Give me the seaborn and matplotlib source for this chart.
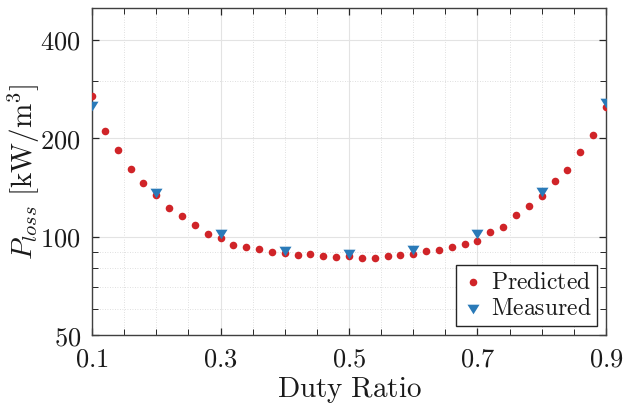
import numpy as np
import pandas as pd
import matplotlib
matplotlib.use("Agg")
import matplotlib.pyplot as plt
from matplotlib.ticker import FixedLocator, FixedFormatter, NullFormatter
import seaborn as sns

# ---- data ----
pred_x = [0.10, 0.12, 0.14, 0.16, 0.18, 0.20, 0.22, 0.24, 0.26, 0.28,
          0.30, 0.32, 0.34, 0.36, 0.38, 0.40, 0.42, 0.44, 0.46, 0.48,
          0.50, 0.52, 0.54, 0.56, 0.58, 0.60, 0.62, 0.64, 0.66, 0.68,
          0.70, 0.72, 0.74, 0.76, 0.78, 0.80, 0.82, 0.84, 0.86, 0.88, 0.90]
pred_y = [269.7, 209.7, 183.4, 161.2, 146.0, 134.2, 122.7, 115.7, 108.6, 102.1,
          99.1, 94.3, 93.2, 91.5, 89.8, 89.3, 87.9, 88.3, 87.1, 86.7,
          87.1, 86.2, 85.9, 87.3, 87.9, 88.5, 90.6, 90.8, 93.0, 94.8,
          97.2, 103.4, 107.1, 116.6, 123.9, 133.3, 148.1, 159.3, 181.7, 204.9, 248.4]
meas_x = [0.1, 0.2, 0.3, 0.4, 0.5, 0.6, 0.7, 0.8, 0.9]
meas_y = [250.1, 135.8, 101.9, 90.4, 88.5, 91.3, 101.6, 136.4, 256.2]

x_ticks = [0.1, 0.3, 0.5, 0.7, 0.9]
x_ticklabels = ["0.1", "0.3", "0.5", "0.7", "0.9"]
y_ticks = [50, 100, 200, 400]
y_ticklabels = ["50", "100", "200", "400"]

# ---- style ----
sns.set_theme(style="ticks")
plt.rcParams["font.family"] = ["DejaVu Serif"]
plt.rcParams["mathtext.fontset"] = "cm"

RED = "#d02428"
BLUE = "#2a7ab8"
TXT = "#1a1a1a"

fig = plt.figure(figsize=(6.25, 4.05), dpi=100)
ax = fig.add_axes([0.1472, 0.1728, 0.8224, 0.8074])

pred_df = pd.DataFrame({"x": pred_x, "y": pred_y})
meas_df = pd.DataFrame({"x": meas_x, "y": meas_y})

tri = [(0, -0.8), (-1, 0.8), (1, 0.8), (0, -0.8)]
sns.scatterplot(data=pred_df, x="x", y="y", ax=ax, color=RED, s=30,
                linewidth=0, marker="o", label=r"$\mathrm{Predicted}$", zorder=3)
sns.scatterplot(data=meas_df, x="x", y="y", ax=ax, color=BLUE, s=75,
                linewidth=0, marker=tri, label=r"$\mathrm{Measured}$", zorder=4)

ax.set_yscale("log")
ax.set_xlim(0.1, 0.9)
ax.set_ylim(50, 500)

ax.xaxis.set_major_locator(FixedLocator(x_ticks))
ax.xaxis.set_major_formatter(FixedFormatter([r"$%s$" % t for t in x_ticklabels]))
ax.xaxis.set_minor_locator(FixedLocator([0.15, 0.2, 0.25, 0.35, 0.4, 0.45, 0.55,
                                         0.6, 0.65, 0.75, 0.8, 0.85]))
ax.yaxis.set_major_locator(FixedLocator(y_ticks))
ax.yaxis.set_major_formatter(FixedFormatter([r"$%s$" % t for t in y_ticklabels]))
ax.yaxis.set_minor_locator(FixedLocator([60, 70, 80, 90, 300]))
ax.yaxis.set_minor_formatter(NullFormatter())

ax.grid(True, which="major", color="#e3e3e3", linewidth=0.8, linestyle="-", zorder=0)
ax.grid(True, which="minor", color="#d5d5d5", linewidth=0.6, linestyle=(0, (1, 2)), zorder=0)
ax.set_axisbelow(True)

ax.tick_params(which="both", direction="in", top=True, right=True,
               color="#262626", labelsize=19, labelcolor=TXT)
ax.tick_params(which="major", length=5, width=0.9, pad=8)
ax.tick_params(which="minor", length=4, width=0.7)
for sp in ax.spines.values():
    sp.set_visible(True)
    sp.set_color("#404040")
    sp.set_linewidth(1.0)

ax.set_xlabel(r"$\mathrm{Duty\ Ratio}$", fontsize=21, color=TXT, labelpad=3)
ax.set_ylabel(r"$P_{loss}\ [\mathrm{kW/m}^3]$", fontsize=21, color=TXT, labelpad=-1)

leg = ax.legend(loc="lower right", fontsize=17, frameon=True, fancybox=False,
                borderaxespad=0.38, handletextpad=0.3, borderpad=0.25,
                labelspacing=0.15, handlelength=0.9)
leg.get_frame().set_edgecolor("#262626")
leg.get_frame().set_linewidth(1.0)
leg.get_frame().set_alpha(1.0)
for t in leg.get_texts():
    t.set_color(TXT)

fig.savefig("out.png", dpi=100)
